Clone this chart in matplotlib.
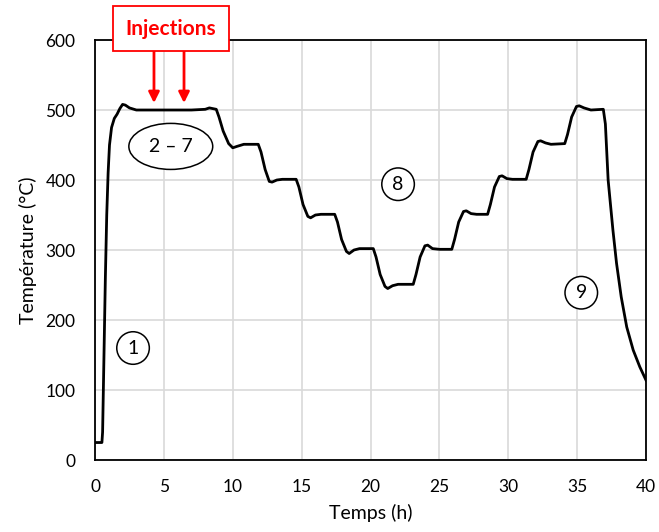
import matplotlib
matplotlib.use('Agg')
import matplotlib.pyplot as plt

plt.rcParams['font.family'] = ['Lato', 'DejaVu Sans']

# temperature profile (h, degC)
temps_h = [0, 0.5, 0.55, 0.65, 0.75, 0.85, 0.95, 1.05, 1.2, 1.4, 1.6, 1.8, 2.0, 2.2, 2.5, 3.0, 5.0, 7.0, 8.0, 8.3, 8.8,
           9.0, 9.3, 9.7, 10.0, 10.3, 10.8, 11.85,
           12.05, 12.35, 12.65, 12.85, 13.2, 13.6, 14.6,
           14.8, 15.1, 15.45, 15.65, 16.0, 16.4, 17.4,
           17.6, 17.9, 18.25, 18.45, 18.8, 19.2, 20.2,
           20.4, 20.7, 21.05, 21.25, 21.6, 22.0, 23.1,
           23.3, 23.6, 23.95, 24.15, 24.5, 25.0, 25.9,
           26.1, 26.4, 26.75, 26.95, 27.3, 27.7, 28.5,
           28.7, 29.0, 29.35, 29.55, 29.9, 30.3, 31.3,
           31.5, 31.8, 32.15, 32.35, 32.7, 33.1, 34.1,
           34.3, 34.6, 34.95, 35.15, 35.5, 36.0, 36.9,
           37.05, 37.15, 37.25, 37.6, 37.86, 38.2, 38.6, 39.07, 39.55, 40.0]
temp_c = [25, 25, 40, 150, 260, 350, 410, 450, 475, 488, 494, 502, 508, 507, 503, 500, 500, 500, 501, 503, 501,
          490, 470, 452, 446, 448, 451, 451,
          440, 415, 398, 397, 400, 401, 401,
          390, 365, 348, 346, 350, 351, 351,
          340, 315, 298, 295, 300, 302, 302,
          290, 265, 248, 245, 249, 251, 251,
          265, 290, 306, 307, 302, 301, 301,
          315, 340, 355, 356, 352, 351, 351,
          365, 390, 405, 406, 402, 401, 401,
          415, 440, 455, 456, 453, 451, 452,
          465, 490, 505, 506, 503, 500, 501,
          480, 440, 400, 328, 281, 233, 190, 157, 133, 114]

# circled step labels: text, x, y
step_labels = ['1', '2 \u2013 7', '8', '9']
step_x = [2.76, 5.5, 22.0, 35.3]
step_y = [160, 448, 394, 239]

injection_x = [4.28, 6.46]

fig = plt.figure(figsize=(6.59, 5.32), dpi=100)
ax = fig.add_axes([0.1442, 0.1353, 0.8361, 0.7895])

ax.plot(temps_h, temp_c, color='black', lw=2.0, zorder=3)

ax.set_xlim(0, 40)
ax.set_ylim(0, 600)
ax.set_xticks(range(0, 41, 5))
ax.set_yticks(range(0, 601, 100))
ax.grid(True, color='#d9d9d9', lw=1.2)
ax.set_axisbelow(True)
ax.tick_params(length=0, labelsize=12.5, pad=14)
for sp in ax.spines.values():
    sp.set_color('black')
    sp.set_linewidth(1.3)

ax.set_xlabel('Temps (h)', fontsize=14, labelpad=6)
ax.set_ylabel('Température (°C)', fontsize=14, labelpad=6)

# circled labels
for lab, x, y in zip(step_labels, step_x, step_y):
    style = 'ellipse,pad=0.4' if len(lab) > 1 else 'circle,pad=0.4'
    ax.text(x, y, lab, fontsize=14, ha='center', va='center', zorder=4,
            bbox=dict(boxstyle=style, fc='white', ec='black', lw=1.1))

# injections box and arrows
ax.text(5.52, 616, 'Injections', fontsize=15, fontweight='bold', color='red',
        ha='center', va='center', clip_on=False, zorder=5,
        bbox=dict(boxstyle='square,pad=0.6', fc='white', ec='red', lw=1.3))
for x in injection_x:
    ax.annotate('', xy=(x, 510), xytext=(x, 586), annotation_clip=False,
                arrowprops=dict(arrowstyle='-|>', color='red', lw=2, mutation_scale=16,
                                shrinkA=0, shrinkB=0))

fig.savefig('out.png', dpi=100)
